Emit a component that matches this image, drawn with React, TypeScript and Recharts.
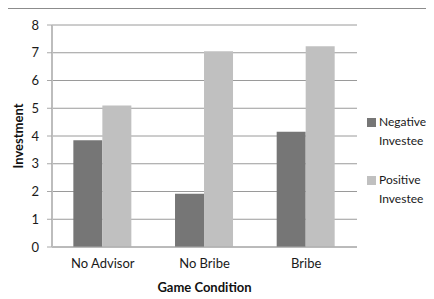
import { BarChart, Bar, XAxis, YAxis, CartesianGrid } from "recharts";

const conditions = ["No Advisor", "No Bribe", "Bribe"];
const negativeInvestee = [3.85, 1.92, 4.15];
const positiveInvestee = [5.1, 7.05, 7.23];
const yTicks = [0, 1, 2, 3, 4, 5, 6, 7, 8];
const boundaryTicks = [0, 1, 2, 3];

const series = [
  { key: "negative", name: "Negative Investee", lines: ["Negative", "Investee"], color: "#767676" },
  { key: "positive", name: "Positive Investee", lines: ["Positive", "Investee"], color: "#c0c0c0" },
];

const data = conditions.map((c, i) => ({
  condition: c,
  negative: negativeInvestee[i],
  positive: positiveInvestee[i],
}));

const font = "Lato, 'Open Sans', sans-serif";
const tickStyle = { fontSize: 13, fill: "#1a1a1a", fontFamily: font };

export default function App() {
  return (
    <div
      style={{
        position: "relative",
        width: 426,
        height: 291,
        borderLeft: "1px solid #8c8c8c",
        borderTop: "1px solid #8c8c8c",
        boxSizing: "border-box",
        marginLeft: -1,
        background: "#fff",
      }}
    >
      <BarChart
        width={425}
        height={290}
        data={data}
        margin={{ top: 16, right: 76, bottom: 0, left: 0 }}
        barCategoryGap="21%"
        barGap={0}
      >
        <CartesianGrid vertical={false} stroke="#9a9a9a" strokeWidth={1} />
        <XAxis
          dataKey="condition"
          tickLine={false}
          axisLine={{ stroke: "#a8a8a8", strokeWidth: 1 }}
          tick={tickStyle}
          tickSize={5}
          tickMargin={7}
          height={52}
          label={{
            value: "Game Condition",
            position: "insideBottom",
            offset: 7,
            style: { fontSize: 13, fontWeight: 700, fill: "#111", fontFamily: font },
          }}
        />
        <XAxis
          xAxisId="bounds"
          type="number"
          domain={[0, 3]}
          ticks={boundaryTicks}
          tick={false}
          tickSize={5}
          tickLine={{ stroke: "#a8a8a8" }}
          axisLine={false}
          height={0}
        />
        <YAxis
          domain={[0, 8]}
          ticks={yTicks}
          interval={0}
          width={44}
          tickSize={5}
          tickMargin={8}
          tick={tickStyle}
          tickLine={{ stroke: "#a8a8a8" }}
          axisLine={{ stroke: "#bdbdbd", strokeWidth: 2 }}
          label={{
            value: "Investment",
            angle: -90,
            position: "insideLeft",
            offset: 10,
            style: { textAnchor: "middle", fontSize: 13, fontWeight: 700, fill: "#111", fontFamily: font },
          }}
        />
        {series.map((s) => (
          <Bar key={s.key} dataKey={s.key} name={s.name} fill={s.color} isAnimationActive={false} />
        ))}
      </BarChart>
      <div
        style={{
          position: "absolute",
          left: 359,
          top: 104,
          width: 70,
          whiteSpace: "nowrap",
          fontFamily: font,
          fontSize: 12,
          color: "#1a1a1a",
          lineHeight: "18.5px",
        }}
      >
        {series.map((s, i) => (
          <div key={s.key} style={{ position: "relative", paddingLeft: 12, marginTop: i === 0 ? 0 : 21 }}>
            <span style={{ position: "absolute", left: 0, top: 5, width: 9, height: 9, background: s.color }} />
            {s.lines.map((l) => (
              <div key={l}>{l}</div>
            ))}
          </div>
        ))}
      </div>
    </div>
  );
}
